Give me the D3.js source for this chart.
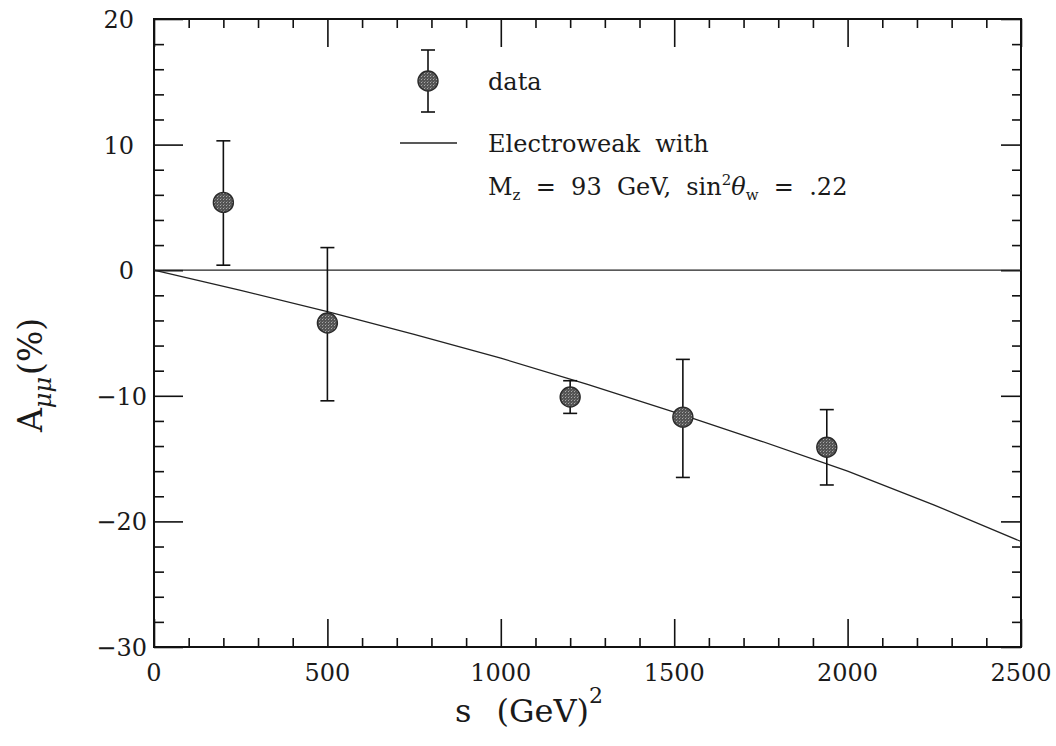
<!DOCTYPE html>
<html>
<head>
<meta charset="utf-8">
<script src="https://cdn.jsdelivr.net/npm/d3@7"></script>
<style>
  html, body { margin: 0; padding: 0; background: #fff; }
  svg { display: block; }
  text { font-family: "DejaVu Serif", "Liberation Serif", serif; fill: #1a1a1a; }
</style>
</head>
<body>
<svg id="chart" width="1056" height="746"></svg>
<script>
// Forward-backward asymmetry measurements (percent) vs s (GeV^2)
const sValues   = [200, 500, 1200, 1525, 1940];
const asym      = [5.4, -4.2, -10.1, -11.7, -14.1];
const errUpper  = [10.3, 1.8, -8.8, -7.1, -11.1];
const errLower  = [0.4, -10.4, -11.4, -16.5, -17.1];

// Electroweak prediction, Mz = 93 GeV, sin^2 theta_w = .22
const curveS    = [0, 250, 500, 750, 1000, 1250, 1500, 1750, 2000, 2250, 2500];
const curveA    = [0, -1.6, -3.3, -5.1, -7.0, -9.1, -11.3, -13.6, -16.0, -18.7, -21.6];

// Axis ticks
const xMajor = [0, 500, 1000, 1500, 2000, 2500];
const xMinor = d3.range(0, 2501, 100).filter(v => v % 500 !== 0);
const yMajor = [-30, -20, -10, 0, 10, 20];
const yMinor = d3.range(-30, 21, 2).filter(v => v % 10 !== 0);

const svg = d3.select("#chart");
const L = 154, R = 1021, T = 19, B = 647;
const x = d3.scaleLinear().domain([0, 2500]).range([L, R]);
const y = d3.scaleLinear().domain([-30, 20]).range([B, T]);

// stippled grey fill for the data markers
const defs = svg.append("defs");
const pat = defs.append("pattern").attr("id", "stipple")
  .attr("width", 3).attr("height", 3).attr("patternUnits", "userSpaceOnUse");
pat.append("rect").attr("width", 3).attr("height", 3).attr("fill", "#545454");
pat.append("rect").attr("x", 1).attr("y", 1).attr("width", 1).attr("height", 1).attr("fill", "#a8a8a8");
pat.append("rect").attr("x", 2).attr("y", 0).attr("width", 1).attr("height", 1).attr("fill", "#777");

const axisStyle = g => {
  g.select(".domain").remove();
  g.selectAll(".tick line").attr("stroke", "#111").attr("stroke-width", 1.6);
};

// inward-pointing ticks on all four sides
svg.append("g").attr("transform", `translate(0,${B})`)
  .call(d3.axisBottom(x).tickValues(xMajor).tickSize(-28).tickFormat("")).call(axisStyle);
svg.append("g").attr("transform", `translate(0,${B})`)
  .call(d3.axisBottom(x).tickValues(xMinor).tickSize(-9).tickFormat("")).call(axisStyle);
svg.append("g").attr("transform", `translate(0,${T})`)
  .call(d3.axisTop(x).tickValues(xMajor).tickSize(-28).tickFormat("")).call(axisStyle);
svg.append("g").attr("transform", `translate(0,${T})`)
  .call(d3.axisTop(x).tickValues(xMinor).tickSize(-9).tickFormat("")).call(axisStyle);
svg.append("g").attr("transform", `translate(${L},0)`)
  .call(d3.axisLeft(y).tickValues(yMajor).tickSize(-29).tickFormat("")).call(axisStyle);
svg.append("g").attr("transform", `translate(${L},0)`)
  .call(d3.axisLeft(y).tickValues(yMinor).tickSize(-10).tickFormat("")).call(axisStyle);
svg.append("g").attr("transform", `translate(${R},0)`)
  .call(d3.axisRight(y).tickValues(yMajor).tickSize(-20).tickFormat("")).call(axisStyle);
svg.append("g").attr("transform", `translate(${R},0)`)
  .call(d3.axisRight(y).tickValues(yMinor).tickSize(-9).tickFormat("")).call(axisStyle);

// frame
svg.append("rect").attr("x", L).attr("y", T).attr("width", R - L).attr("height", B - T)
  .attr("fill", "none").attr("stroke", "#111").attr("stroke-width", 2);

// tick labels
svg.append("g").selectAll("text").data(xMajor).join("text")
  .attr("x", d => x(d)).attr("y", 681)
  .attr("text-anchor", "middle").attr("font-size", 24)
  .text(d => d);
svg.append("g").selectAll("text").data(yMajor).join("text")
  .attr("x", d => d < 0 ? L - 7 : L - 20).attr("y", d => y(d) + 9)
  .attr("text-anchor", "end").attr("font-size", 24)
  .text(d => d < 0 ? "\u2212" + Math.abs(d) : d);

// zero line
svg.append("line").attr("x1", x(0)).attr("x2", x(2500)).attr("y1", y(0)).attr("y2", y(0))
  .attr("stroke", "#222").attr("stroke-width", 1.3);

// theory curve
const line = d3.line().x((d, i) => x(curveS[i])).y(d => y(d));
svg.append("path").datum(curveA).attr("d", line)
  .attr("fill", "none").attr("stroke", "#222").attr("stroke-width", 1.3);

// error bars
const eb = svg.append("g").attr("stroke", "#111").attr("stroke-width", 1.6);
sValues.forEach((s, i) => {
  const cx = x(s);
  eb.append("line").attr("x1", cx).attr("x2", cx).attr("y1", y(errUpper[i])).attr("y2", y(errLower[i]));
  eb.append("line").attr("x1", cx - 7).attr("x2", cx + 7).attr("y1", y(errUpper[i])).attr("y2", y(errUpper[i]));
  eb.append("line").attr("x1", cx - 7).attr("x2", cx + 7).attr("y1", y(errLower[i])).attr("y2", y(errLower[i]));
});

// data markers
svg.append("g").selectAll("circle").data(asym).join("circle")
  .attr("cx", (d, i) => x(sValues[i])).attr("cy", d => y(d)).attr("r", 10)
  .attr("fill", "url(#stipple)").attr("stroke", "#2a2a2a").attr("stroke-width", 1.4);

// legend
const lg = svg.append("g");
lg.append("line").attr("x1", 428).attr("x2", 428).attr("y1", 50).attr("y2", 112)
  .attr("stroke", "#111").attr("stroke-width", 1.6);
lg.append("line").attr("x1", 421).attr("x2", 435).attr("y1", 50).attr("y2", 50)
  .attr("stroke", "#111").attr("stroke-width", 1.6);
lg.append("line").attr("x1", 421).attr("x2", 435).attr("y1", 112).attr("y2", 112)
  .attr("stroke", "#111").attr("stroke-width", 1.6);
lg.append("circle").attr("cx", 428).attr("cy", 81).attr("r", 10)
  .attr("fill", "url(#stipple)").attr("stroke", "#2a2a2a").attr("stroke-width", 1.4);
lg.append("text").attr("x", 488).attr("y", 90).attr("font-size", 24).text("data");
lg.append("line").attr("x1", 400).attr("x2", 457).attr("y1", 143).attr("y2", 143)
  .attr("stroke", "#222").attr("stroke-width", 1.3);
lg.append("text").attr("x", 488).attr("y", 152).attr("font-size", 24)
  .attr("xml:space", "preserve").text("Electroweak  with");
const t2 = lg.append("text").attr("x", 488).attr("y", 195).attr("font-size", 24)
  .attr("xml:space", "preserve");
t2.append("tspan").text("M");
t2.append("tspan").attr("dy", 5).attr("font-size", 15).text("z");
t2.append("tspan").attr("dy", -5).text("  =  93  GeV,  sin");
t2.append("tspan").attr("dy", -10).attr("font-size", 15).text("2");
t2.append("tspan").attr("dy", 10).attr("font-style", "italic").text("\u03b8");
t2.append("tspan").attr("dy", 5).attr("font-size", 15).text("w");
t2.append("tspan").attr("dy", -5).text("  =  .22");

// axis titles
const xt = svg.append("text").attr("x", 455).attr("y", 722).attr("font-size", 32)
  .attr("xml:space", "preserve");
xt.append("tspan").text("s");
xt.append("tspan").attr("dx", 25).text("(GeV)");
xt.append("tspan").attr("dy", -19).attr("font-size", 22).text("2");

const yt = svg.append("text").attr("transform", "translate(42,432) rotate(-90)")
  .attr("font-size", 33);
yt.append("tspan").text("A");
yt.append("tspan").attr("dy", 9).attr("font-size", 24).attr("font-style", "italic").text("\u03bc\u03bc");
yt.append("tspan").attr("dy", -9).attr("dx", 2).text("(%)");
</script>
</body>
</html>
